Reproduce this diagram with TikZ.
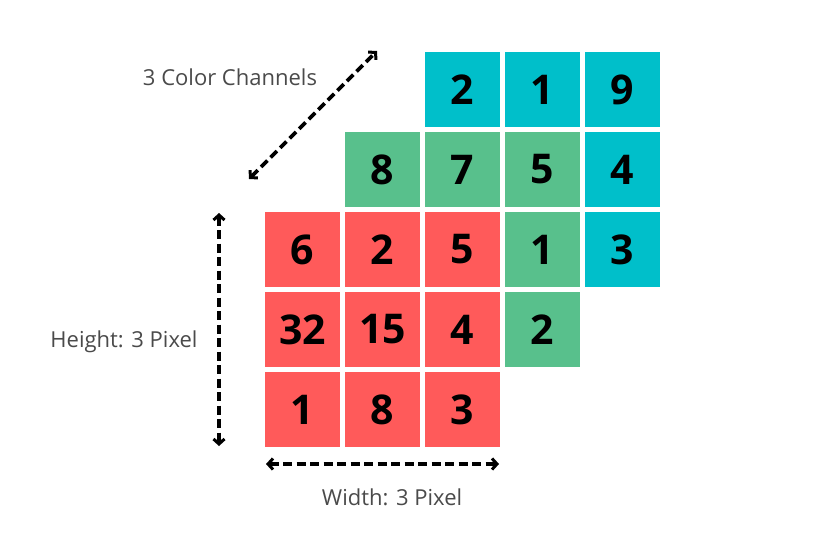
\documentclass[tikz,border=0pt]{standalone}
\usepackage{fontspec}
\setmainfont{Open Sans}
\usetikzlibrary{arrows.meta}

\definecolor{chred}{HTML}{FF5A5A}
\definecolor{chgreen}{HTML}{58C08C}
\definecolor{chblue}{HTML}{00BFCA}
\definecolor{labelgray}{HTML}{4A4A4A}

\tikzset{
    cell/.style={minimum size=75pt, inner sep=0pt, text=black,
        font=\fontsize{41}{41}\selectfont\bfseries},
    dim/.style={line width=3.6pt, dash pattern=on 9pt off 4.5pt,
        {Straight Barb[length=5pt,width=11pt,line width=3pt]}-{Straight Barb[length=5pt,width=11pt,line width=3pt]}},
    dimlabel/.style={text=labelgray, font=\fontsize{22}{22}\selectfont}
}

\begin{document}
\begin{tikzpicture}[x=1pt,y=-1pt]
    \useasboundingbox (0,0) rectangle (821,535);

    % blue channel
    \node[cell, fill=chblue] (b11) at (462.5,89.5) {2};
    \node[cell, fill=chblue] (b12) at (542.5,89.5) {1};
    \node[cell, fill=chblue] (b13) at (622.5,89.5) {9};
    \node[cell, fill=chblue] (b23) at (622.5,169.5) {4};
    \node[cell, fill=chblue] (b33) at (622.5,249.5) {3};

    % green channel
    \node[cell, fill=chgreen] (g11) at (382.5,169.5) {8};
    \node[cell, fill=chgreen] (g12) at (462.5,169.5) {7};
    \node[cell, fill=chgreen] (g13) at (542.5,169.5) {5};
    \node[cell, fill=chgreen] (g23) at (542.5,249.5) {1};
    \node[cell, fill=chgreen] (g33) at (542.5,329.5) {2};

    % red channel
    \node[cell, fill=chred] (r11) at (302.5,249.5) {6};
    \node[cell, fill=chred] (r12) at (382.5,249.5) {2};
    \node[cell, fill=chred] (r13) at (462.5,249.5) {5};
    \node[cell, fill=chred] (r21) at (302.5,329.5) {32};
    \node[cell, fill=chred] (r22) at (382.5,329.5) {15};
    \node[cell, fill=chred] (r23) at (462.5,329.5) {4};
    \node[cell, fill=chred] (r31) at (302.5,409.5) {1};
    \node[cell, fill=chred] (r32) at (382.5,409.5) {8};
    \node[cell, fill=chred] (r33) at (462.5,409.5) {3};

    % dimensions
    \coordinate (chA) at (249,179);
    \coordinate (chB) at (377,51);
    \coordinate (htA) at (219,213);
    \coordinate (htB) at (219,446);
    \coordinate (wdA) at (266,464);
    \coordinate (wdB) at (499,464);

    \draw[dim] (chA) -- (chB);
    \draw[dim] (htA) -- (htB);
    \draw[dim] (wdA) -- (wdB);

    \node[dimlabel] (chlabel) at (230,77) {3 Color Channels};
    \node[dimlabel] (htlabel) at (124,342) {Height: 3 Pixel};
    \node[dimlabel] (wdlabel) at (392,497) {Width: 3 Pixel};

\end{tikzpicture}
\end{document}
